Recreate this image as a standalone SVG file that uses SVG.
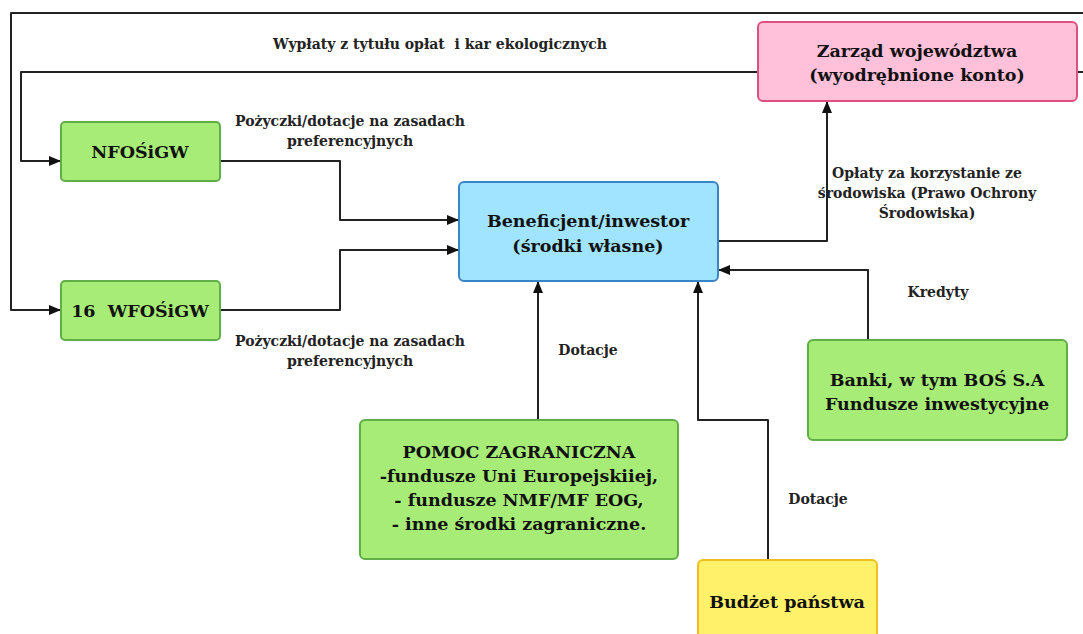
<svg xmlns="http://www.w3.org/2000/svg" width="1083" height="634" viewBox="0 0 1083 634">
<defs>
<style>
.box{stroke-width:2}
.green{fill:#a8ec78;stroke:#5fae48}
.blue{fill:#a0e4ff;stroke:#3c84c8}
.pink{fill:#ffc0da;stroke:#e0507f}
.yellow{fill:#fff26a;stroke:#f0c020}
.nt{font-family:"DejaVu Serif","Liberation Serif",serif;font-weight:bold;font-size:17.5px;fill:#111;text-anchor:middle;white-space:pre}
.lt{font-family:"DejaVu Serif","Liberation Serif",serif;font-weight:bold;font-size:14px;fill:#222;text-anchor:middle;white-space:pre}
.c{fill:none;stroke:#222;stroke-width:2;stroke-linejoin:round}
</style>
<marker id="ah" markerWidth="12" markerHeight="10" refX="11" refY="5" orient="auto" markerUnits="userSpaceOnUse">
<path d="M0,0 L12,5 L0,10 Z" fill="#111"/>
</marker>
</defs>
<rect width="1083" height="634" fill="#fff"/>
<g id="connectors">
<path class="c" d="M1083,13 H11 V310 H60" marker-end="url(#ah)"/>
<path class="c" d="M758,72 H21 V161 H60" marker-end="url(#ah)"/>
<path class="c" d="M1077,72 H1083"/>
<path class="c" d="M220,161 H340 V220 H458" marker-end="url(#ah)"/>
<path class="c" d="M220,310 H340 V250 H458" marker-end="url(#ah)"/>
<path class="c" d="M718,241 H827 V102" marker-end="url(#ah)"/>
<path class="c" d="M868,340 V270 H719" marker-end="url(#ah)"/>
<path class="c" d="M538,420 V282" marker-end="url(#ah)"/>
<path class="c" d="M768,560 V420 H698 V282" marker-end="url(#ah)"/>
<text class="lt" x="440" y="49">Wypłaty z tytułu opłat  i kar ekologicznych</text>
<text class="lt" x="350" y="126">Pożyczki/dotacje na zasadach</text>
<text class="lt" x="350" y="146">preferencyjnych</text>
<text class="lt" x="350" y="346">Pożyczki/dotacje na zasadach</text>
<text class="lt" x="350" y="366">preferencyjnych</text>
<text class="lt" x="588" y="355">Dotacje</text>
<text class="lt" x="818" y="504">Dotacje</text>
<text class="lt" x="938" y="297">Kredyty</text>
<text class="lt" x="927" y="178">Opłaty za korzystanie ze</text>
<text class="lt" x="927" y="198">środowiska (Prawo Ochrony</text>
<text class="lt" x="927" y="218">Środowiska)</text>
</g>
<g id="nfos">
<rect class="box green" x="61" y="122" width="159" height="59" rx="4"/>
<text class="nt" x="140" y="158">NFOŚiGW</text>
</g>
<g id="wfos">
<rect class="box green" x="61" y="281" width="159" height="59" rx="4"/>
<text class="nt" x="140" y="317">16  WFOŚiGW</text>
</g>
<g id="beneficjent">
<rect class="box blue" x="459" y="182" width="259" height="99" rx="5"/>
<text class="nt" x="588" y="227">Beneficjent/inwestor</text>
<text class="nt" x="588" y="252">(środki własne)</text>
</g>
<g id="zarzad">
<rect class="box pink" x="758" y="22" width="319" height="79" rx="5"/>
<text class="nt" x="917" y="57">Zarząd województwa</text>
<text class="nt" x="917" y="81">(wyodrębnione konto)</text>
</g>
<g id="pomoc">
<rect class="box green" x="360" y="420" width="318" height="139" rx="5"/>
<text class="nt" x="519" y="458">POMOC ZAGRANICZNA</text>
<text class="nt" x="519" y="482">-fundusze Uni Europejskiiej,</text>
<text class="nt" x="519" y="506">- fundusze NMF/MF EOG,</text>
<text class="nt" x="519" y="530">- inne środki zagraniczne.</text>
</g>
<g id="banki">
<rect class="box green" x="808" y="340" width="259" height="100" rx="5"/>
<text class="nt" x="937" y="386">Banki, w tym BOŚ S.A</text>
<text class="nt" x="937" y="410">Fundusze inwestycyjne</text>
</g>
<g id="budzet">
<rect class="box yellow" x="698" y="560" width="179" height="90" rx="5"/>
<text class="nt" x="787" y="608">Budżet państwa</text>
</g>
</svg>
